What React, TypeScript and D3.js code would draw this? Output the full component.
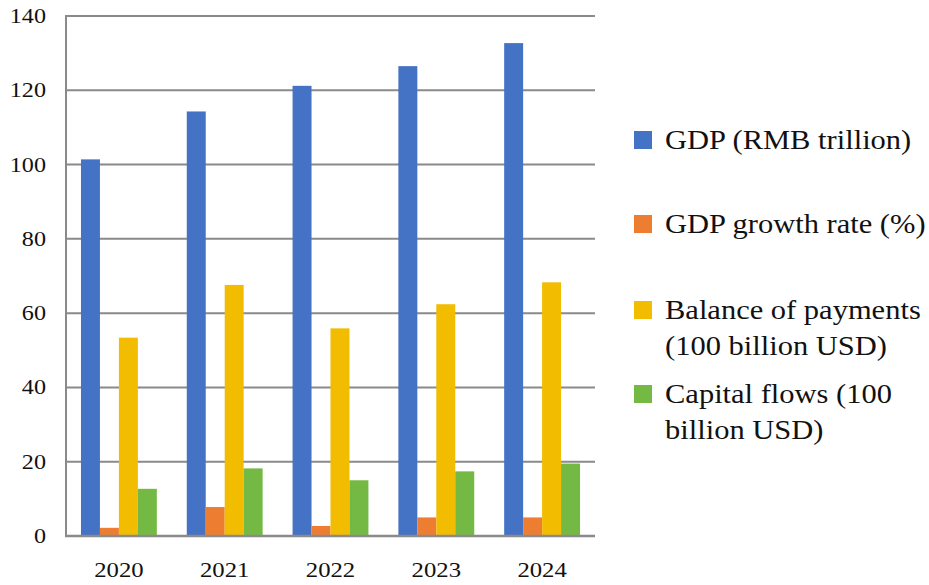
import { useEffect, useRef } from "react";
import * as d3 from "d3";

const years = ["2020", "2021", "2022", "2023", "2024"];
const gdp = [101.4, 114.3, 121.2, 126.5, 132.7];
const growthRate = [2.2, 7.8, 2.7, 5.0, 5.0];
const balanceOfPayments = [53.4, 67.6, 55.9, 62.4, 68.3];
const capitalFlows = [12.7, 18.2, 15.0, 17.4, 19.5];
const yTicks = [0, 20, 40, 60, 80, 100, 120, 140];

const seriesNames = [
    ["GDP (RMB trillion)"],
    ["GDP growth rate (%)"],
    ["Balance of payments", "(100 billion USD)"],
    ["Capital flows (100", "billion USD)"],
];
const seriesColors = ["#4472C4", "#ED7D31", "#F2BC00", "#73B944"];

export default function App() {
    const svgRef = useRef<SVGSVGElement>(null);

    useEffect(() => {
        if (!svgRef.current) return;
        const svg = d3.select(svgRef.current);
        svg.selectAll("*").remove();

        const W = 929, H = 585;
        const margin = { top: 16, right: 334, bottom: 49, left: 66 };
        const font = "Liberation Serif, Times New Roman, serif";
        const values = [gdp, growthRate, balanceOfPayments, capitalFlows];
        // the source picture is a little wider than tall, so text is stretched a bit
        const stretch = 1.15;

        svg.attr("width", W).attr("height", H);

        const x = d3.scaleBand()
            .domain(years)
            .range([margin.left, W - margin.right])
            .paddingInner(0.283)
            .paddingOuter(0.1415);

        const xSub = d3.scaleBand<number>()
            .domain(d3.range(values.length))
            .range([0, x.bandwidth()]);

        const y = d3.scaleLinear()
            .domain([0, 140])
            .range([H - margin.bottom, margin.top]);

        // Gridlines
        svg.append("g")
            .selectAll("line")
            .data(yTicks.slice(1))
            .enter().append("line")
            .attr("x1", margin.left)
            .attr("x2", W - margin.right)
            .attr("y1", d => y(d))
            .attr("y2", d => y(d))
            .attr("stroke", "#8a8a8a")
            .attr("stroke-width", 2);

        // Bars
        values.forEach((series, si) => {
            svg.append("g")
                .selectAll("rect")
                .data(series)
                .enter().append("rect")
                .attr("x", (_, i) => x(years[i])! + xSub(si)!)
                .attr("y", d => y(d))
                .attr("width", xSub.bandwidth())
                .attr("height", d => y(0) - y(d))
                .attr("fill", seriesColors[si]);
        });

        // Axis lines
        svg.append("line")
            .attr("x1", margin.left).attr("x2", margin.left)
            .attr("y1", margin.top - 1).attr("y2", y(0) + 1)
            .attr("stroke", "#8a8a8a").attr("stroke-width", 2);
        svg.append("line")
            .attr("x1", margin.left - 1).attr("x2", W - margin.right)
            .attr("y1", y(0)).attr("y2", y(0))
            .attr("stroke", "#8a8a8a").attr("stroke-width", 2.5);

        // Y tick labels
        svg.append("g")
            .selectAll("text")
            .data(yTicks)
            .enter().append("text")
            .attr("transform", d => `translate(46,${y(d) + 7}) scale(${stretch},1)`)
            .attr("text-anchor", "end")
            .style("font-family", font)
            .style("font-size", "21px")
            .attr("fill", "#111")
            .text(d => d);

        // X tick labels
        svg.append("g")
            .selectAll("text")
            .data(years)
            .enter().append("text")
            .attr("transform", d => `translate(${x(d)! + x.bandwidth() / 2},577) scale(${stretch},1)`)
            .attr("text-anchor", "middle")
            .style("font-family", font)
            .style("font-size", "21.5px")
            .attr("fill", "#111")
            .text(d => d);

        // Legend
        const legendY = [149, 233, 319, 403];
        seriesNames.forEach((lines, si) => {
            const g = svg.append("g");
            g.append("rect")
                .attr("x", 634)
                .attr("y", legendY[si] - 18)
                .attr("width", 18)
                .attr("height", 18)
                .attr("fill", seriesColors[si]);
            lines.forEach((line, li) => {
                g.append("text")
                    .attr("transform", `translate(665,${legendY[si] + li * 36}) scale(1.13,1)`)
                    .style("font-family", font)
                    .style("font-size", "27px")
                    .attr("fill", "#111")
                    .text(line);
            });
        });
    }, []);

    return (
        <div style={{ position: "absolute", left: 0, top: 0, background: "#fff" }}>
            <svg ref={svgRef} style={{ display: "block" }}></svg>
        </div>
    );
}
